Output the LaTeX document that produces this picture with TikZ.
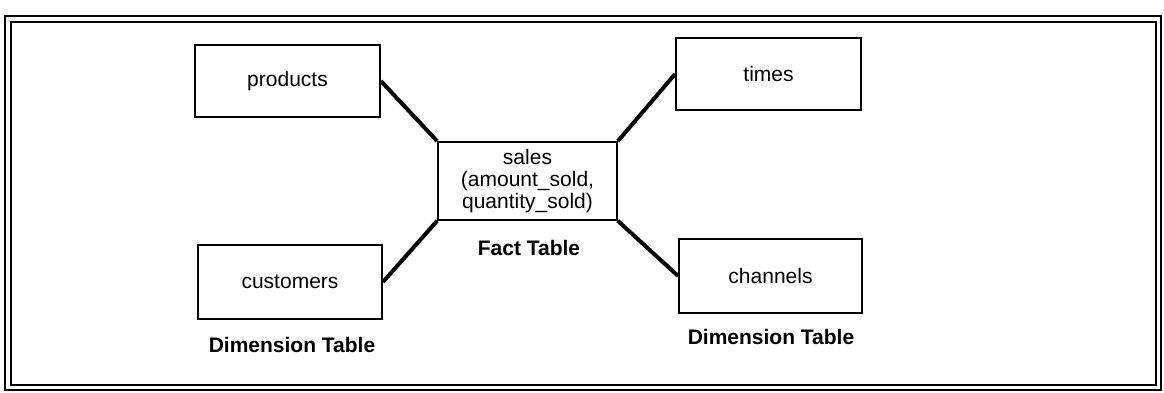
\documentclass[tikz,border=0pt]{standalone}
\usepackage{fontspec}
\setmainfont{Liberation Sans}
\begin{document}
\begin{tikzpicture}[x=1pt,y=-1pt,
  tbox/.style={draw=black,line width=1.8pt,minimum width=#1,inner sep=0pt,font=\fontsize{21}{22}\selectfont,align=center},
  tbox/.default={184pt},
  conn/.style={line width=4pt},
  lbl/.style={font=\bfseries\fontsize{21}{22}\selectfont,inner sep=0pt}]
\useasboundingbox (0,0) rectangle (1164,393);
% frame
\draw[line width=2.6pt] (5,16) rectangle (1161,390);
\draw[line width=1.3pt] (11,22) rectangle (1156,385);
% nodes
\node[tbox=185pt,minimum height=72pt] (products) at (287.5,81) {products};
\node[tbox=185pt,minimum height=72pt] (times) at (768.5,74) {times};
\node[tbox=179pt,minimum height=78pt] (sales) at (527.5,181) {sales\\(amount\_sold,\\quantity\_sold)};
\node[tbox=184pt,minimum height=74pt] (customers) at (290,282) {customers};
\node[tbox=183pt,minimum height=74pt] (channels) at (770.5,276) {channels};
\node[lbl] (fact) at (529,248) {Fact Table};
\node[lbl] (dimL) at (292,345) {Dimension Table};
\node[lbl] (dimR) at (771,337) {Dimension Table};
% connectors
\draw[conn] (products.east) -- (sales.north west);
\draw[conn] (times.west) -- (sales.north east);
\draw[conn] (customers.east) -- (sales.south west);
\draw[conn] (channels.west) -- (sales.south east);
\end{tikzpicture}
\end{document}
